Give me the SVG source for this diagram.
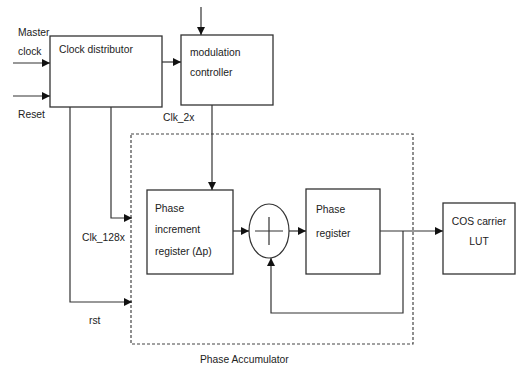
<svg xmlns="http://www.w3.org/2000/svg" width="516" height="367" viewBox="0 0 516 367">
<style>
.box{fill:#fff;stroke:#333;stroke-width:1.3}
.ln{fill:none;stroke:#333;stroke-width:1.2}
text{font-family:"Liberation Sans",Arial,sans-serif;font-size:10.3px;fill:#222}
</style>
<defs>
<marker id="ah" viewBox="0 0 8 8" refX="8" refY="4" markerWidth="8" markerHeight="8" markerUnits="userSpaceOnUse" orient="auto">
<path d="M0,0 L8,4 L0,8 z" fill="#111"/>
</marker>
</defs>
<rect width="516" height="367" fill="#fff"/>
<g id="phase-accumulator">
<rect x="131" y="134" width="282" height="210" fill="none" stroke="#444" stroke-width="1.2" stroke-dasharray="3,2"/>
<text x="200" y="363" font-size="10.8">Phase Accumulator</text>
</g>
<g id="clock-distributor">
<rect class="box" x="50" y="36" width="112" height="71"/>
<text x="59" y="53">Clock distributor</text>
</g>
<g id="modulation-controller">
<rect class="box" x="181" y="35" width="92" height="70"/>
<text x="190" y="56">modulation</text>
<text x="190" y="76">controller</text>
</g>
<g id="phase-increment-register">
<rect class="box" x="147" y="190" width="86" height="84"/>
<text x="155" y="212">Phase</text>
<text x="155" y="233">increment</text>
<text x="155" y="255">register (Δp)</text>
</g>
<g id="adder">
<ellipse cx="269" cy="231" rx="20" ry="27" fill="#fff" stroke="#333" stroke-width="1.2"/>
<path class="ln" d="M255,231 H283 M269,217 V245"/>
</g>
<g id="phase-register">
<rect class="box" x="306" y="189" width="74" height="85"/>
<text x="316" y="213" font-size="11.5">Phase</text>
<text x="316" y="237" font-size="11.5">register</text>
</g>
<g id="cos-carrier-lut">
<rect class="box" x="443" y="203" width="72" height="71"/>
<text x="479" y="225" text-anchor="middle" font-size="9.5">COS carrier</text>
<text x="479" y="245" text-anchor="middle" font-size="9.5">LUT</text>
</g>
<g id="labels">
<text x="18" y="36" font-size="8">Master</text>
<text x="18" y="55" font-size="8">clock</text>
<text x="18" y="118" font-size="9.5">Reset</text>
<text x="163" y="121" font-size="9.5">Clk_2x</text>
<text x="82" y="241" font-size="9.5">Clk_128x</text>
<text x="89" y="324" font-size="9.5">rst</text>
</g>
<g id="connectors">
<path class="ln" d="M13,63 H50" marker-end="url(#ah)"/>
<path class="ln" d="M13,96 H50" marker-end="url(#ah)"/>
<path class="ln" d="M162,62 H181" marker-end="url(#ah)"/>
<path class="ln" d="M201,7 V35" marker-end="url(#ah)"/>
<path class="ln" d="M212,105 V190" marker-end="url(#ah)"/>
<path class="ln" d="M111,107 V218 H132" marker-end="url(#ah)"/>
<path class="ln" d="M70,107 V302 H132" marker-end="url(#ah)"/>
<path class="ln" d="M233,231 H249" marker-end="url(#ah)"/>
<path class="ln" d="M289,231 H306" marker-end="url(#ah)"/>
<path class="ln" d="M380,231 H443" marker-end="url(#ah)"/>
<path class="ln" d="M403,231 V313 H271 V258" marker-end="url(#ah)"/>
</g>
</svg>
